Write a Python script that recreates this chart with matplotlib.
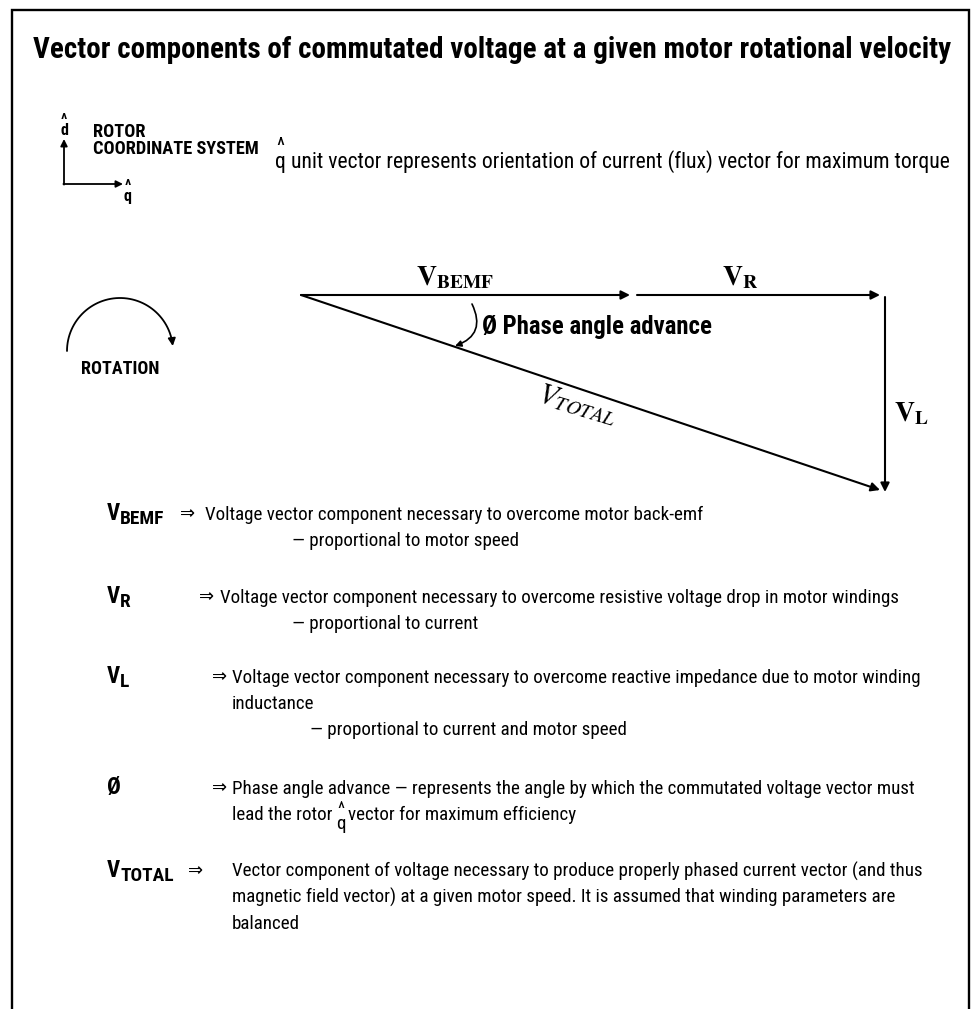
import matplotlib
matplotlib.use("Agg")
import matplotlib.pyplot as plt
import numpy as np
from matplotlib import font_manager as fm
from matplotlib.patches import FancyArrowPatch
from matplotlib.path import Path

# ---- fonts -------------------------------------------------------------
_names = {f.name for f in fm.fontManager.ttflist}
SANS = next((n for n in ["Liberation Sans Narrow", "Roboto Condensed", "Open Sans Condensed"]
             if n in _names), "Liberation Sans")

# ---- content -----------------------------------------------------------
title = "Vector components of commutated voltage at a given motor rotational velocity"
rotor_label = ["ROTOR", "COORDINATE SYSTEM"]
q_note = "unit vector represents orientation of current (flux) vector for maximum torque"
rotation_label = "ROTATION"
phase_label = "Ø Phase angle advance"

# vector lengths in pixels (as drawn in the reference)
origin = (301, 295)
v_bemf = 329
v_r = 243
v_l = 195
gap = 7

row_sym = [("V", "BEMF"), ("V", "R"), ("V", "L"), ("Ø", ""), ("V", "TOTAL")]
row_text = [
    ["Voltage vector component necessary to overcome motor back-emf"],
    ["Voltage vector component necessary to overcome resistive voltage drop in motor windings"],
    ["Voltage vector component necessary to overcome reactive impedance due to motor winding",
     "inductance"],
    ["Phase angle advance — represents the angle by which the commutated voltage vector must",
     "lead the rotor"],
    ["Vector component of voltage necessary to produce properly phased current vector (and thus",
     "magnetic field vector) at a given motor speed. It is assumed that winding parameters are",
     "balanced"],
]
q_tail = "vector for maximum efficiency"
row_note = ["— proportional to motor speed", "— proportional to current",
            "— proportional to current and motor speed", "", ""]
row_base = [520, 603, 683, 794, 877]
row_arrow_x = [180, 199, 212, 212, 188]
row_text_x = [205, 220, 232, 232, 232]
note_x = [292, 292, 310]

# ---- figure ------------------------------------------------------------
W, H = 976, 1009
fig = plt.figure(figsize=(W / 100, H / 100), dpi=100)
ax = fig.add_axes([0, 0, 1, 1])
ax.set_xlim(0, W)
ax.set_ylim(H, 0)
ax.axis("off")
renderer = fig.canvas.get_renderer()


def text_w(t):
    bb = t.get_window_extent(renderer)
    inv = ax.transData.inverted()
    return inv.transform((bb.x1, 0))[0] - inv.transform((bb.x0, 0))[0]


def fit(x, y, s, width, weight="normal", family=SANS, **kw):
    t = ax.text(x, y, s, fontsize=14, fontweight=weight, family=family, va="baseline", **kw)
    t.set_fontsize(14 * width / text_w(t))
    return t


def right_of(t):
    bb = t.get_window_extent(renderer)
    return ax.transData.inverted().transform((bb.x1, 0))[0]


def hatted(x, y, ch, size, weight="normal", spacing=0.5):
    # letter with a circumflex above it, one text object; y is the letter's baseline
    return ax.text(x, y, "^\n" + ch, fontsize=size, fontweight=weight, family=SANS,
                   ha="center", va="baseline", multialignment="center", linespacing=spacing)


# frame
ax.plot([12, 12, 969, 969], [H, 10, 10, H], color="black", lw=1.7, solid_joinstyle="miter")

# title
fit(33, 58, title, 922, weight="bold")

# rotor coordinate system
ckw = dict(arrowstyle="-|>", lw=1.3, color="black", mutation_scale=10, shrinkA=0, shrinkB=0)
ax.annotate("", xy=(64, 139), xytext=(64, 184.6), arrowprops=ckw)
ax.annotate("", xy=(123, 184), xytext=(63.4, 184), arrowprops=ckw)
hatted(64, 135, "d", 11.5, weight="bold", spacing=0.6)
hatted(128, 201, "q", 11.5, weight="bold", spacing=0.6)
t_rot = fit(93, 137, rotor_label[1], 167, weight="bold")
ax.text(93, 137, rotor_label[0], fontsize=t_rot.get_fontsize(), fontweight="bold",
        family=SANS, va="baseline")
t_rot.set_y(154)

# q-hat note
note = fit(291, 168, q_note, 664)
hatted(280, 168, "q", note.get_fontsize(), spacing=0.6)

# rotation arc
ang = np.linspace(np.pi, 1.97 * np.pi, 60)
cx, cy, rr = 120, 351, 53
arc = Path(np.column_stack([cx + rr * np.cos(ang), cy + rr * np.sin(ang)]))
ax.add_patch(FancyArrowPatch(path=arc, arrowstyle="-|>", mutation_scale=11, lw=1.3,
                             color="black"))
fit(81, 374, rotation_label, 78, weight="bold")

# vector triangle
ox, oy = origin
p_bemf = (ox + v_bemf, oy)
p_r0 = (ox + v_bemf + gap, oy)
p_r1 = (ox + v_bemf + gap + v_r, oy)
p_l0 = (p_r1[0] + 5, oy + 2)
p_l1 = (p_r1[0] + 5, oy + v_l + 2)
p_tot = (p_r1[0], oy + v_l)
akw = dict(arrowstyle="-|>", lw=1.5, color="black", mutation_scale=13, shrinkA=0, shrinkB=0)
for a, b in [(origin, p_bemf), (p_r0, p_r1), (p_l0, p_l1), (origin, p_tot)]:
    ax.add_patch(FancyArrowPatch(a, b, **akw))

mkw = dict(math_fontfamily="stix", va="center", ha="center")
ax.text(455, 277, r"$\mathbf{V}_{\mathbf{BEMF}}$", fontsize=20, **mkw)
ax.text(740, 277, r"$\mathbf{V}_{\mathbf{R}}$", fontsize=20, **mkw)
ax.text(911, 413, r"$\mathbf{V}_{\mathbf{L}}$", fontsize=20, **mkw)
slope = np.degrees(np.arctan2(v_l, v_bemf + gap + v_r))
ax.text(578, 404, r"$V_{TOTAL}$", fontsize=21, rotation=-slope + 2, rotation_mode="anchor",
        **mkw)

# phase angle arc
ax.add_patch(FancyArrowPatch((472, 304), (455, 346), connectionstyle="arc3,rad=-0.55",
                             arrowstyle="-|>", mutation_scale=9, lw=1.2, color="black",
                             shrinkA=0, shrinkB=0))
fit(482, 334, phase_label, 231, weight="bold")

# legend rows
probe = fit(220, row_base[1], row_text[1][0], 682)
body_size = probe.get_fontsize()
probe.remove()
for i, (sym, sub) in enumerate(row_sym):
    y = row_base[i]
    m = ax.text(107, y, sym, fontsize=body_size * 1.2, fontweight="bold", family=SANS,
                va="baseline")
    if sub:
        ax.text(right_of(m), y + 4, sub, fontsize=body_size * 1.02, fontweight="bold",
                family=SANS, va="baseline")
    tx = row_text_x[i]
    ax.text(row_arrow_x[i], y - 1, "⇒", fontsize=body_size * 0.95, family="DejaVu Sans",
            ha="left", va="baseline")
    for j, line in enumerate(row_text[i]):
        t = ax.text(tx, y + 26 * j, line, fontsize=body_size, family=SANS, va="baseline")
    if i == 3:
        qx = right_of(t) + 8
        yy = y + 26
        hatted(qx, yy + 9, "q", body_size, spacing=0.75)
        ax.text(qx + 8, yy, q_tail, fontsize=body_size, family=SANS, va="baseline")
    if row_note[i]:
        ax.text(note_x[i], y + 26 * len(row_text[i]), row_note[i], fontsize=body_size,
                family=SANS, va="baseline")

fig.savefig("out.png", dpi=100)
